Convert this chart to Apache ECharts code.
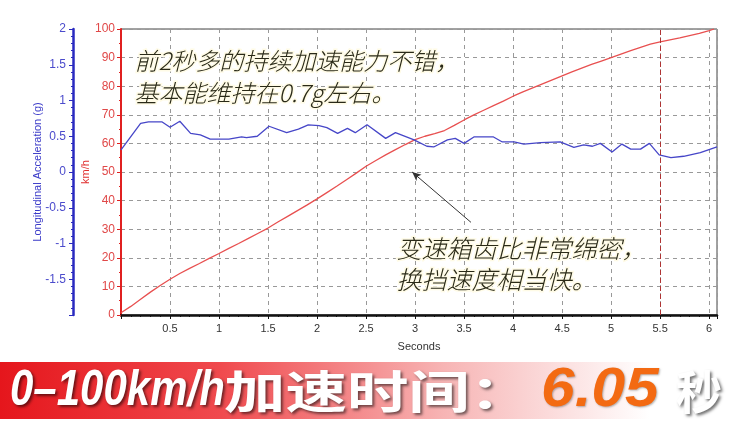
<!DOCTYPE html>
<html><head><meta charset="utf-8">
<script src="https://cdn.jsdelivr.net/npm/echarts@6/dist/echarts.min.js"></script>
<style>html,body{margin:0;padding:0;background:#fff}#c{width:738px;height:427px}</style>
</head><body><div id="c"></div><script>
// Speed (km/h) vs time (s)
const speedTime = [0,0.1,0.2,0.3,0.4,0.5,0.6,0.7,0.8,0.9,1.0,1.1,1.2,1.3,1.4,1.5,1.6,1.7,1.8,1.9,2.0,2.1,2.2,2.3,2.4,2.5,2.6,2.7,2.8,2.9,3.0,3.1,3.2,3.3,3.4,3.5,3.6,3.7,3.8,3.9,4.0,4.1,4.2,4.3,4.4,4.5,4.6,4.7,4.8,4.9,5.0,5.1,5.2,5.3,5.4,5.5,5.6,5.7,5.8,5.9,6.0,6.05];
const speedKmh = [0.8,3,5.5,8,10.3,12.5,14.5,16.3,18,19.8,21.5,23.3,25,26.8,28.6,30.4,32.5,34.5,36.5,38.5,40.6,42.8,45,47.3,49.6,52,54,56,57.8,59.6,61.3,62.5,63.4,64.5,66.3,68.2,70,71.6,73.2,74.8,76.5,78,79.4,80.8,82.2,83.6,85,86.3,87.6,88.8,90,91.2,92.4,93.6,94.7,95.5,96.2,96.9,97.7,98.5,99.4,100];
// Longitudinal acceleration (g) vs time (s)
const accelTime = [0,0.2,0.28,0.42,0.5,0.6,0.71,0.81,0.91,1.1,1.23,1.28,1.39,1.51,1.69,1.81,1.91,2.02,2.1,2.21,2.31,2.39,2.51,2.7,2.8,2.99,3.12,3.19,3.33,3.41,3.5,3.6,3.8,3.89,4.01,4.11,4.28,4.48,4.62,4.72,4.81,4.89,5.01,5.11,5.2,5.3,5.39,5.49,5.61,5.74,5.91,6.08];
const accelG = [0.31,0.68,0.70,0.70,0.625,0.71,0.54,0.52,0.46,0.46,0.49,0.48,0.50,0.64,0.55,0.60,0.66,0.65,0.62,0.54,0.61,0.55,0.66,0.47,0.55,0.45,0.36,0.35,0.45,0.47,0.40,0.49,0.49,0.42,0.42,0.39,0.41,0.42,0.345,0.38,0.36,0.40,0.28,0.39,0.32,0.32,0.40,0.24,0.20,0.22,0.27,0.35];
// Annotations
const note1 = '前2秒多的持续加速能力不错，\n基本能维持在0.7g左右。';
const note2 = '变速箱齿比非常绵密，\n换挡速度相当快。';
const arrowFrom = [3.57, 32.4];
const arrowTo = [2.97, 50];
const shiftTime = 5.5;
const bannerLeft = '0–100km/h';
const bannerMid = '加速时间：';
const bannerValue = '6.05';
const bannerUnit = '秒';

const chart = echarts.init(document.getElementById('c'));
const sans = 'Liberation Sans, Arial, sans-serif';
const cjk = '"Noto Sans CJK SC", sans-serif';
const shadowTxt = {textShadowColor:'rgba(0,0,0,0.55)', textShadowBlur:3, textShadowOffsetX:2, textShadowOffsetY:2};

chart.setOption({
  animation:false,
  backgroundColor:'#fff',
  grid:{left:121, top:29, width:596, height:286, show:true, borderColor:'#444', borderWidth:1, backgroundColor:'#fff'},
  xAxis:{
    type:'value', min:0, max:6.08, interval:0.5,
    name:'Seconds', nameLocation:'middle', nameGap:26, nameMoveOverlap:false,
    nameTextStyle:{fontFamily:sans, fontSize:11, color:'#333'},
    axisLine:{lineStyle:{color:'#111', width:2.5}},
    axisTick:{length:4, lineStyle:{color:'#111'}},
    minorTick:{show:true, splitNumber:5, length:2, lineStyle:{color:'#111'}},
    axisLabel:{fontFamily:sans, fontSize:11, color:'#333', margin:8,
      formatter:v=> (v>0 && Math.abs(v*2-Math.round(v*2))<1e-6) ? String(v) : ''},
    splitLine:{show:true, lineStyle:{color:'#999', type:[4,4], width:1}}
  },
  yAxis:[
    {type:'value', min:0, max:100, interval:10, position:'left', offset:0,
     name:'km/h', nameLocation:'middle', nameGap:30, nameRotate:90, nameMoveOverlap:false,
     nameTextStyle:{fontFamily:sans, fontSize:11, color:'#e03030'},
     axisLine:{show:true, lineStyle:{color:'#e02020', width:2}},
     axisTick:{show:true, length:4, lineStyle:{color:'#e02020'}},
     minorTick:{show:true, splitNumber:2, length:2, lineStyle:{color:'#e02020'}},
     axisLabel:{fontFamily:sans, fontSize:12, color:'#e04848', margin:6},
     splitLine:{show:true, lineStyle:{color:'#999', type:[4,4], width:1}}},
    {type:'value', min:-2, max:2, interval:0.5, position:'left', offset:48,
     name:'Longitudinal Acceleration (g)', nameLocation:'middle', nameGap:30, nameRotate:90, nameMoveOverlap:false,
     nameTextStyle:{fontFamily:sans, fontSize:11, color:'#3a3ac8'},
     axisLine:{show:true, lineStyle:{color:'#2a2ac0', width:2.5}},
     axisTick:{show:true, length:4, lineStyle:{color:'#2a2ac0'}},
     minorTick:{show:true, splitNumber:5, length:2, lineStyle:{color:'#2a2ac0'}},
     axisLabel:{fontFamily:sans, fontSize:12, color:'#4b4bcc', margin:7, showMinLabel:false},
     splitLine:{show:false}}
  ],
  series:[
    {type:'line', yAxisIndex:0, symbol:'none', smooth:false,
     data: speedTime.map((t,i)=>[t, speedKmh[i]]),
     lineStyle:{color:'#e85050', width:1.3}, z:3,
     markLine:{silent:true, symbol:['none','arrow'], symbolSize:[6,9],
       label:{show:false},
       lineStyle:{color:'#333', width:1, type:'solid'},
       data:[[{coord:arrowFrom},{coord:arrowTo}]]}},
    {type:'line', yAxisIndex:1, symbol:'none', smooth:false,
     data: accelTime.map((t,i)=>[t, accelG[i]]),
     lineStyle:{color:'#4646c8', width:1.3}, z:3,
     markLine:{silent:true, symbol:'none', label:{show:false},
       lineStyle:{color:'#b03434', width:1, type:[5,3]},
       data:[{xAxis:shiftTime}]}}
  ],
  graphic:[
    {type:'text', left:133, top:45, z:10, style:{text:note1, fontFamily:cjk, fontSize:24, fontStyle:'italic', fontWeight:300, lineHeight:32,
      fill:'#2a2a18', stroke:'#fffbe6', lineWidth:3}},
    {type:'text', left:395, top:233, z:10, style:{text:note2, fontFamily:cjk, fontSize:25, fontStyle:'italic', fontWeight:300, lineHeight:31,
      fill:'#2a2a18', stroke:'#fffbe6', lineWidth:3}},
    {type:'rect', shape:{x:0, y:362, width:738, height:57}, z:1,
      style:{fill:new echarts.graphic.LinearGradient(0,0,1,0,[
        {offset:0,color:'#e5161c'},{offset:0.3,color:'#f04a4e'},{offset:0.6,color:'#f7b4b4'},{offset:0.88,color:'#ffffff'},{offset:1,color:'#ffffff'}])}},
    {type:'text', x:10, y:391, scaleX:0.84, z:5, style:Object.assign({text:bannerLeft, fontFamily:sans, fontSize:50, fontWeight:'bold', fontStyle:'italic',
      fill:'#fff', verticalAlign:'middle', align:'left'}, shadowTxt)},
    {type:'text', x:224, y:392, scaleX:1.28, scaleY:0.95, z:5, style:Object.assign({text:bannerMid, fontFamily:cjk, fontSize:48, fontWeight:'bold',
      fill:'#fff', verticalAlign:'middle', align:'left'}, shadowTxt)},
    {type:'text', x:541, y:391, scaleX:1.08, z:5, style:Object.assign({text:bannerValue, fontFamily:sans, fontSize:56, fontWeight:'bold', fontStyle:'italic',
      fill:'#f36a12', verticalAlign:'middle', align:'left'}, {textShadowColor:'rgba(0,0,0,0.3)', textShadowBlur:2, textShadowOffsetX:1, textShadowOffsetY:1})},
    {type:'text', x:676, y:392, z:5, style:Object.assign({text:bannerUnit, fontFamily:cjk, fontSize:46, fontWeight:'bold',
      fill:'#fff', verticalAlign:'middle', align:'left'}, shadowTxt)}
  ]
});
</script></body></html>
